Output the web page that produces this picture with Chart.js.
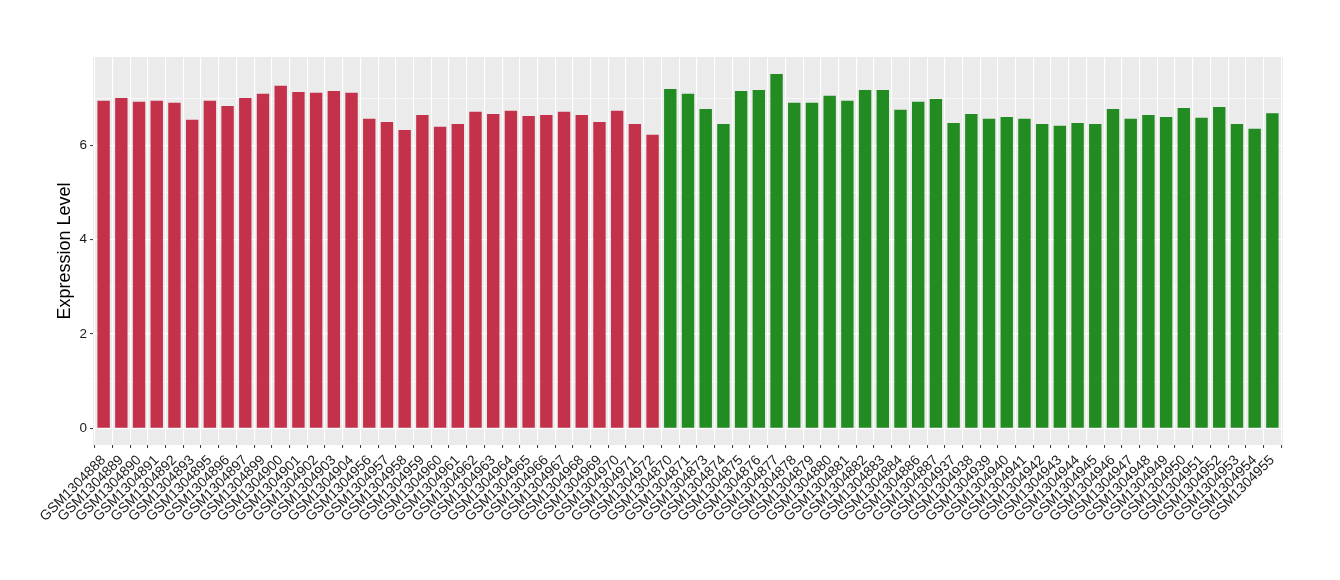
<!DOCTYPE html>
<html>
<head>
<meta charset="utf-8">
<script src="https://cdn.jsdelivr.net/npm/chart.js@4/dist/chart.umd.min.js"></script>
<style>
  html, body { margin: 0; padding: 0; background: #ffffff; }
  canvas { display: block; }
</style>
</head>
<body>
<canvas id="c" width="1340" height="580"></canvas>
<script>
// ---- data ----
const redSamples = ["GSM1304888","GSM1304889","GSM1304890","GSM1304891","GSM1304892","GSM1304893","GSM1304895","GSM1304896","GSM1304897","GSM1304899","GSM1304900","GSM1304901","GSM1304902","GSM1304903","GSM1304904","GSM1304956","GSM1304957","GSM1304958","GSM1304959","GSM1304960","GSM1304961","GSM1304962","GSM1304963","GSM1304964","GSM1304965","GSM1304966","GSM1304967","GSM1304968","GSM1304969","GSM1304970","GSM1304971","GSM1304972"];
const redValues = [6.94,7.00,6.92,6.94,6.90,6.54,6.94,6.83,7.00,7.09,7.26,7.13,7.11,7.15,7.11,6.56,6.49,6.32,6.64,6.39,6.45,6.71,6.66,6.73,6.62,6.64,6.71,6.64,6.49,6.73,6.45,6.22];
const greenSamples = ["GSM1304870","GSM1304871","GSM1304873","GSM1304874","GSM1304875","GSM1304876","GSM1304877","GSM1304878","GSM1304879","GSM1304880","GSM1304881","GSM1304882","GSM1304883","GSM1304884","GSM1304886","GSM1304887","GSM1304937","GSM1304938","GSM1304939","GSM1304940","GSM1304941","GSM1304942","GSM1304943","GSM1304944","GSM1304945","GSM1304946","GSM1304947","GSM1304948","GSM1304949","GSM1304950","GSM1304951","GSM1304952","GSM1304953","GSM1304954","GSM1304955"];
const greenValues = [7.19,7.09,6.77,6.45,7.15,7.17,7.51,6.90,6.90,7.05,6.94,7.17,7.17,6.75,6.92,6.98,6.47,6.66,6.56,6.60,6.56,6.45,6.41,6.47,6.45,6.77,6.56,6.64,6.60,6.79,6.58,6.81,6.45,6.35,6.68];
const yTickLabels = [0, 2, 4, 6];
const yTitle = "Expression Level";

// ---- build ----
const labels = redSamples.concat(greenSamples);
const values = redValues.concat(greenValues);
const colors = redSamples.map(() => "#C3324A").concat(greenSamples.map(() => "#228B22"));
const points = values.map((v, i) => ({ x: i, y: v }));

const FONT = "'Liberation Sans', Arial, Helvetica, sans-serif";

const panelBg = {
  id: 'panelBg',
  beforeDraw(chart) {
    const { ctx, chartArea: a } = chart;
    ctx.save();
    ctx.fillStyle = '#EBEBEB';
    ctx.fillRect(a.left, a.top, a.right - a.left, a.bottom - a.top);
    ctx.restore();
  }
};

new Chart(document.getElementById('c'), {
  type: 'bar',
  data: {
    datasets: [{
      data: points,
      backgroundColor: colors,
      borderWidth: 0,
      barPercentage: 0.7,
      categoryPercentage: 1.0
    }]
  },
  options: {
    responsive: false,
    devicePixelRatio: 1,
    animation: false,
    layout: { padding: { top: 57, right: 57, left: 0, bottom: 0 } },
    plugins: { legend: { display: false }, tooltip: { enabled: false } },
    scales: {
      x: {
        type: 'linear',
        min: -0.6,
        max: labels.length - 1 + 0.6,
        offset: false,
        border: { display: false },
        grid: {
          color: '#FFFFFF',
          lineWidth: 1.1,
          drawTicks: true,
          tickLength: 3,
          tickColor: '#333333',
          tickWidth: 1
        },
        ticks: {
          stepSize: 1,
          includeBounds: false,
          autoSkip: false,
          maxRotation: 45,
          minRotation: 45,
          padding: 4,
          color: '#1a1a1a',
          font: { family: FONT, size: 14 },
          callback: (v) => (Number.isInteger(v) && labels[v] !== undefined) ? labels[v] : ''
        },
        afterBuildTicks(scale) {
          scale.ticks = scale.ticks.filter(t => Number.isInteger(t.value) && t.value >= 0 && t.value < labels.length);
        },
        afterFit(scale) {
          scale.height = 135;
          scale.paddingLeft = 0;
          scale.paddingRight = 0;
        }
      },
      y: {
        min: -0.355,
        max: 7.87,
        border: { display: false },
        grid: {
          color: '#FFFFFF',
          lineWidth: (ctx) => (ctx.tick && ctx.tick.value % 2 === 0) ? 1.2 : 0.6,
          drawTicks: true,
          tickLength: 3,
          tickColor: (ctx) => (ctx.tick && ctx.tick.value % 2 === 0) ? '#333333' : 'rgba(0,0,0,0)',
          tickWidth: 1
        },
        ticks: {
          stepSize: 1,
          includeBounds: false,
          padding: 3,
          color: '#1a1a1a',
          font: { family: FONT, size: 13.5 },
          callback: (v) => yTickLabels.includes(v) ? String(v) : ''
        },
        afterBuildTicks(scale) {
          scale.ticks = scale.ticks.filter(t => Number.isInteger(t.value) && t.value >= 0);
        },
        title: {
          display: true,
          text: yTitle,
          color: '#000000',
          font: { family: FONT, size: 18 },
          padding: { top: 54, bottom: 0 }
        },
        afterFit(scale) {
          scale.width = 93;
        }
      }
    }
  },
  plugins: [panelBg]
});
</script>
</body>
</html>
